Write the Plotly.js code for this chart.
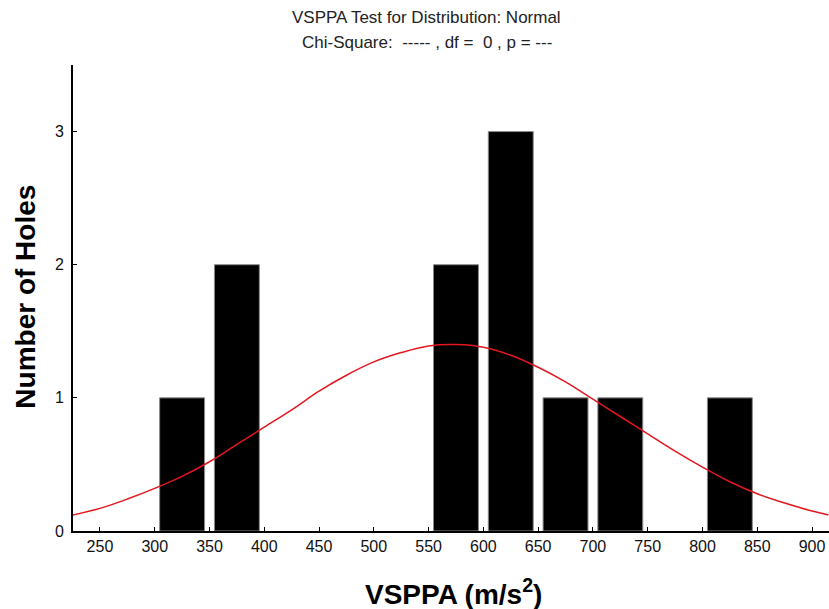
<!DOCTYPE html>
<html>
<head>
<meta charset="utf-8">
<script src="https://cdn.plot.ly/plotly-3.0.1.min.js"></script>
<style>
  html, body { margin: 0; padding: 0; background: #fff; }
  #chart { width: 829px; height: 609px; }
</style>
</head>
<body>
<div id="chart"></div>
<script>
// Histogram of VSPPA values (bin centres, 50 m/s² wide bins)
const binCenters = [325, 375, 575, 625, 675, 725, 825];
const holeCounts = [1, 2, 2, 3, 1, 1, 1];

// Fitted normal curve, expected number of holes per bin
const curveX = [225, 250, 275, 300, 325, 350, 375, 400, 425, 450, 475, 500, 525, 550,
                575, 600, 625, 650, 675, 700, 725, 750, 775, 800, 825, 850, 875, 900, 915];
const curveY = [0.12, 0.17, 0.24, 0.32, 0.41, 0.52, 0.65, 0.78, 0.91, 1.05, 1.17, 1.27, 1.34, 1.39,
                1.40, 1.38, 1.32, 1.23, 1.12, 0.99, 0.86, 0.73, 0.60, 0.48, 0.37, 0.28, 0.21, 0.15, 0.12];

// Axis ticks
const xTicks = [250, 300, 350, 400, 450, 500, 550, 600, 650, 700, 750, 800, 850, 900];
const yTicks = [0, 1, 2, 3];

const FONT = '"Liberation Sans", Arial, Helvetica, sans-serif';

const bars = {
  type: 'bar',
  x: binCenters,
  y: holeCounts,
  width: 41,
  marker: { color: '#000000', line: { color: '#8a8a8a', width: 1 } },
  hoverinfo: 'x+y'
};

const curve = {
  type: 'scatter',
  mode: 'lines',
  x: curveX,
  y: curveY,
  line: { color: '#e3161e', width: 1.5, shape: 'spline', smoothing: 1 },
  hoverinfo: 'skip'
};

const layout = {
  width: 829,
  height: 609,
  margin: { l: 73, r: 0, t: 65, b: 78 },
  paper_bgcolor: '#ffffff',
  plot_bgcolor: '#ffffff',
  showlegend: false,
  font: { family: FONT, color: '#111111' },
  xaxis: {
    range: [225.4, 915.5],
    tickvals: xTicks,
    ticktext: xTicks.map(String),
    ticks: 'inside',
    ticklen: 4,
    tickwidth: 1,
    tickcolor: '#000',
    showline: true,
    linecolor: '#000',
    linewidth: 2,
    showgrid: false,
    zeroline: false,
    tickfont: { size: 16, color: '#111' },
    fixedrange: true
  },
  yaxis: {
    range: [0, 3.5],
    tickvals: yTicks,
    ticktext: yTicks.map(String),
    ticks: 'inside',
    ticklen: 4,
    tickwidth: 1,
    tickcolor: '#000',
    showline: true,
    linecolor: '#000',
    linewidth: 2,
    showgrid: false,
    zeroline: false,
    ticklabelstandoff: 4,
    tickfont: { size: 16, color: '#111' },
    fixedrange: true
  },
  annotations: [
    {
      text: 'VSPPA Test for Distribution: Normal',
      xref: 'paper', yref: 'paper', x: 0.468, y: 1.103,
      xanchor: 'center', yanchor: 'middle', showarrow: false,
      font: { family: FONT, size: 17, color: '#222' }
    },
    {
      text: 'Chi-Square:  ----- , df =  0 , p = ---',
      xref: 'paper', yref: 'paper', x: 0.468, y: 1.049,
      xanchor: 'center', yanchor: 'middle', showarrow: false,
      font: { family: FONT, size: 17, color: '#222' }
    },
    {
      text: '<b>VSPPA (m/s<sup>2</sup>)</b>',
      xref: 'paper', yref: 'paper', x: 0.503, y: -0.131,
      xanchor: 'center', yanchor: 'middle', showarrow: false,
      font: { family: FONT, size: 28, color: '#000' }
    },
    {
      text: '<b>Number of Holes</b>',
      xref: 'paper', yref: 'paper', x: -0.064, y: 0.502,
      xanchor: 'center', yanchor: 'middle', showarrow: false, textangle: -90,
      font: { family: FONT, size: 28, color: '#000' }
    }
  ]
};

Plotly.newPlot('chart', [bars, curve], layout, { displayModeBar: false, staticPlot: true });
</script>
</body>
</html>
